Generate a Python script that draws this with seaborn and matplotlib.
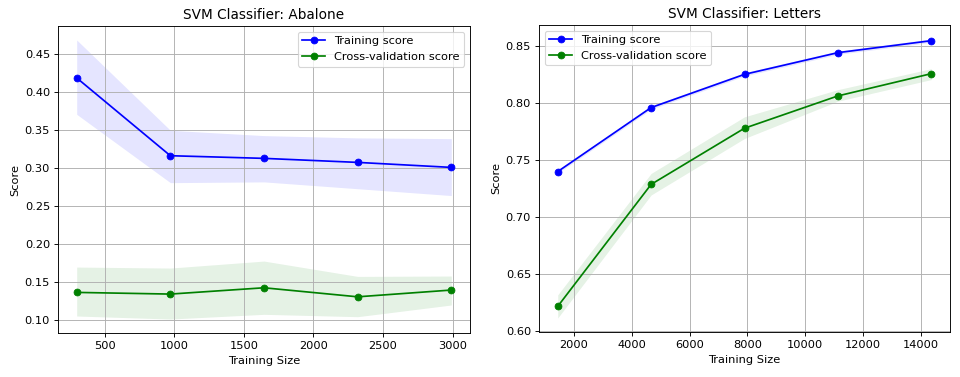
"""Кривые обучения SVM для двух наборов данных (Abalone и Letters)."""

import matplotlib
matplotlib.use("Agg")
import matplotlib.pyplot as plt
import numpy as np
import pandas as pd
import seaborn as sns

# Abalone: размеры обучающей выборки и средние/границы оценок.
abalone_sizes = [299, 972, 1645, 2318, 2991]
abalone_train = [0.419, 0.3165, 0.313, 0.3077, 0.3011]
abalone_train_hi = [0.469, 0.350, 0.343, 0.340, 0.339]
abalone_train_lo = [0.371, 0.281, 0.282, 0.273, 0.264]
abalone_cv = [0.1364, 0.1342, 0.1425, 0.1306, 0.1395]
abalone_cv_hi = [0.1698, 0.1685, 0.1777, 0.1575, 0.158]
abalone_cv_lo = [0.1053, 0.1013, 0.1075, 0.1044, 0.1198]

# Letters.
letters_sizes = [1436, 4668, 7899, 11131, 14362]
letters_train = [0.740, 0.7961, 0.8252, 0.8442, 0.8547]
letters_train_hi = [0.7415, 0.7976, 0.8267, 0.8457, 0.8562]
letters_train_lo = [0.7385, 0.7946, 0.8237, 0.8427, 0.8532]
letters_cv = [0.6219, 0.7288, 0.778, 0.8063, 0.8258]
letters_cv_hi = [0.632, 0.7384, 0.788, 0.8118, 0.8302]
letters_cv_lo = [0.6117, 0.7195, 0.769, 0.8017, 0.8206]

TITLES = ["SVM Classifier: Abalone", "SVM Classifier: Letters"]
LEGEND_LOC = ["upper right", "upper left"]

DPI = 82


def draw_curve(ax, sizes, train, train_lo, train_hi, cv, cv_lo, cv_hi, title, loc):
    df = pd.DataFrame({"size": sizes, "train": train, "cv": cv})
    ax.fill_between(sizes, train_lo, train_hi, alpha=0.1, color="b", linewidth=0)
    ax.fill_between(sizes, cv_lo, cv_hi, alpha=0.1, color="g", linewidth=0)
    sns.lineplot(data=df, x="size", y="train", ax=ax, color="b", marker="o",
                 markeredgecolor="b", markersize=6, label="Training score")
    sns.lineplot(data=df, x="size", y="cv", ax=ax, color="g", marker="o",
                 markeredgecolor="g", markersize=6, label="Cross-validation score")
    ax.set_title(title, fontsize=12)
    ax.set_xlabel("Training Size")
    ax.set_ylabel("Score")
    ax.grid(True, color="#b0b0b0", linewidth=0.8)
    ax.legend(loc=loc)


fig = plt.figure(figsize=(960 / DPI, 377 / DPI), dpi=DPI)
ax1 = fig.add_axes([0.0604, 0.1167, 0.4292, 0.8143])
ax2 = fig.add_axes([0.5615, 0.1194, 0.4281, 0.8143])

draw_curve(ax1, abalone_sizes, abalone_train, abalone_train_lo, abalone_train_hi,
           abalone_cv, abalone_cv_lo, abalone_cv_hi, TITLES[0], LEGEND_LOC[0])
draw_curve(ax2, letters_sizes, letters_train, letters_train_lo, letters_train_hi,
           letters_cv, letters_cv_lo, letters_cv_hi, TITLES[1], LEGEND_LOC[1])

fig.savefig("out.png", dpi=DPI)
